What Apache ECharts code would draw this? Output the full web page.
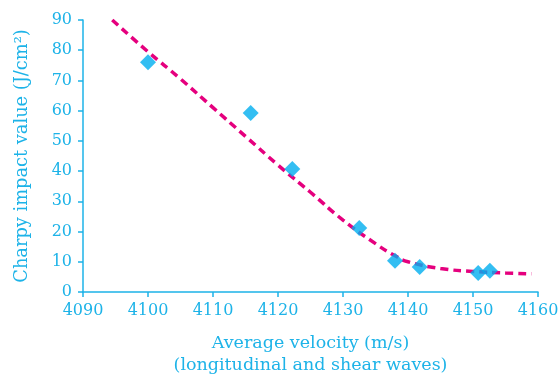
<!DOCTYPE html>
<html>
<head>
<meta charset="utf-8">
<script src="https://cdn.jsdelivr.net/npm/echarts@6/dist/echarts.min.js"></script>
<style>
  html, body { margin: 0; padding: 0; background: #ffffff; }
  #chart { width: 558px; height: 376px; }
</style>
</head>
<body>
<div id="chart"></div>
<script>
// measured points (velocity m/s, Charpy J/cm2)
const velocity = [4100, 4115.8, 4122.2, 4132.5, 4138, 4141.8, 4150.8, 4152.6];
const charpy = [76, 59.2, 40.7, 21.2, 10.3, 8.3, 6.3, 7.0];

// fitted trend line
const trendX = [4094.5, 4100, 4105, 4110, 4115, 4120, 4125, 4130, 4135, 4138, 4140, 4145, 4150, 4155, 4159];
const trendY = [90, 79.5, 70.5, 61, 51.5, 42, 33, 23.8, 16, 12, 10, 7.8, 6.8, 6.3, 6];

const axisColor = '#1db3e8';
const font = 'DejaVu Serif';

const chart = echarts.init(document.getElementById('chart'));

chart.setOption({
  backgroundColor: '#ffffff',
  animation: false,
  grid: { left: 83, right: 20, top: 20, bottom: 84, containLabel: false, outerBoundsMode: 'none' },
  xAxis: {
    type: 'value',
    min: 4090,
    max: 4160,
    interval: 10,
    name: 'Average velocity (m/s)\n(longitudinal and shear waves)',
    nameLocation: 'middle',
    nameGap: 40,
    nameTextStyle: { color: axisColor, fontFamily: font, fontSize: 17.5, lineHeight: 22 },
    axisLine: { lineStyle: { color: axisColor, width: 1.5 } },
    axisTick: { show: true, length: 5, lineStyle: { color: axisColor, width: 1.5 } },
    axisLabel: { color: axisColor, fontFamily: font, fontSize: 16, margin: 11, formatter: v => String(v) },
    splitLine: { show: false }
  },
  yAxis: {
    type: 'value',
    min: 0,
    max: 90,
    interval: 10,
    name: 'Charpy impact value (J/cm²)',
    nameLocation: 'middle',
    nameGap: 52,
    nameTextStyle: { color: axisColor, fontFamily: font, fontSize: 17.8 },
    axisLine: { show: true, lineStyle: { color: axisColor, width: 1.5 } },
    axisTick: { show: true, length: 5, lineStyle: { color: axisColor, width: 1.5 } },
    axisLabel: { color: axisColor, fontFamily: font, fontSize: 16, margin: 11 },
    splitLine: { show: false }
  },
  series: [
    {
      name: 'Trend',
      type: 'line',
      smooth: true,
      showSymbol: false,
      data: trendX.map((x, i) => [x, trendY[i]]),
      lineStyle: { color: '#e5007e', width: 3.5, type: [8, 5] },
      z: 2
    },
    {
      name: 'Measured',
      type: 'scatter',
      symbol: 'diamond',
      symbolSize: 16,
      data: velocity.map((x, i) => [x, charpy[i]]),
      itemStyle: { color: '#00aeef' },
      z: 3
    }
  ]
});
</script>
</body>
</html>
